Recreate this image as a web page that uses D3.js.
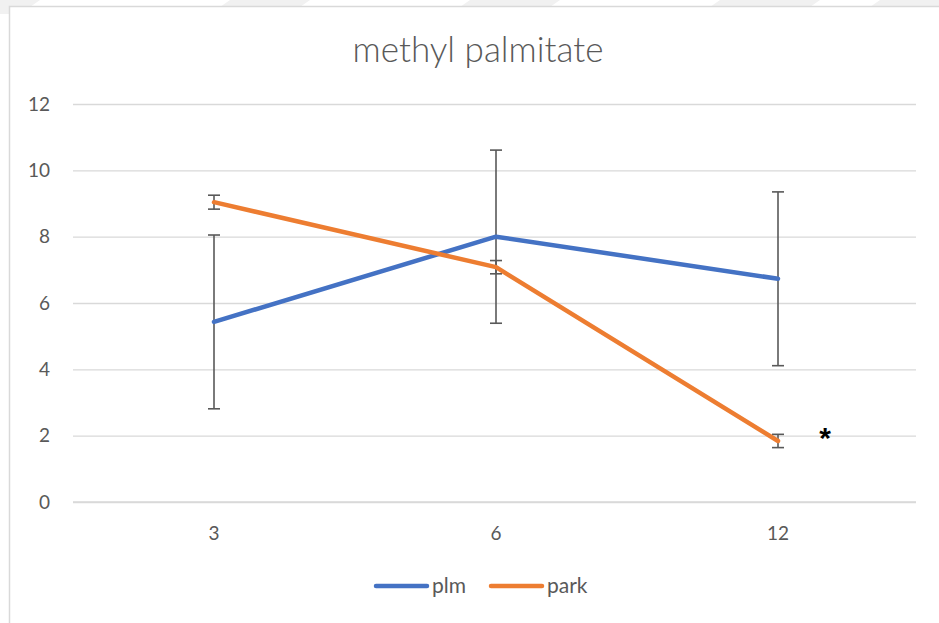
<!DOCTYPE html>
<html>
<head>
<meta charset="utf-8">
<script src="https://cdn.jsdelivr.net/npm/d3@7"></script>
<style>
  html, body { margin: 0; padding: 0; background: #fff; }
  svg { display: block; }
</style>
</head>
<body>
<svg id="chart" width="939" height="623"></svg>
<script>
// Sampling times (x categories)
const categories = ["3", "6", "12"];
// Mean values per series
const plmValues = [5.43, 8.0, 6.73];
const parkValues = [9.04, 7.08, 1.84];
// Error bar half-widths (± around the mean)
const plmErrors = [2.62, 2.61, 2.62];
const parkErrors = [0.21, 0.2, 0.2];
// Y axis ticks
const yTicks = [0, 2, 4, 6, 8, 10, 12];

const series = [
  { name: "plm", values: plmValues, errors: plmErrors, color: "#4472C4" },
  { name: "park", values: parkValues, errors: parkErrors, color: "#ED7D31" }
];

const svg = d3.select("#chart");
const W = 939, H = 623;
const font = "Lato, 'Open Sans', sans-serif";

// faint banner shapes along the top edge
const bandG = svg.append("g");
[[-40, 40], [230, 310], [470, 560], [720, 820], [880, 960]].forEach(([a, b]) => {
  bandG.append("polygon")
    .attr("points", `${a},0 ${b},0 ${b - 20},14 ${a - 20},14`)
    .attr("fill", "#f1f1f1");
});

// chart area
svg.append("rect")
  .attr("x", 9.5).attr("y", 6.5)
  .attr("width", W + 10).attr("height", H + 10)
  .attr("fill", "#fff")
  .attr("stroke", "#d9d9d9").attr("stroke-width", 1.5);

const plot = { left: 73, right: 919, top: 104, bottom: 502 };

const x = d3.scaleBand().domain(categories).range([plot.left, plot.right]);
const y = d3.scaleLinear().domain([0, 12]).range([plot.bottom, plot.top]);
const cx = c => x(c) + x.bandwidth() / 2;

// title
svg.append("text")
  .attr("x", 478).attr("y", 62)
  .attr("text-anchor", "middle")
  .attr("font-family", font).attr("font-size", 35).attr("font-weight", 300)
  .attr("fill", "#595959")
  .text("methyl palmitate");

// gridlines
const yAxis = d3.axisLeft(y).tickValues(yTicks).tickSize(-(plot.right - 3 - plot.left)).tickPadding(23);
const gy = svg.append("g").attr("transform", `translate(${plot.left},0)`).call(yAxis);
gy.select(".domain").remove();
gy.selectAll(".tick line").attr("stroke", "#d9d9d9").attr("stroke-width", 1.3);
gy.selectAll(".tick text")
  .attr("font-family", font).attr("font-size", 19).attr("fill", "#595959");

// x axis
const xAxis = d3.axisBottom(x).tickSize(0).tickPadding(25);
const gx = svg.append("g").attr("transform", `translate(0,${plot.bottom})`).call(xAxis);
gx.select(".domain").attr("stroke", "#d9d9d9").attr("stroke-width", 1.3)
  .attr("d", `M${plot.left},0H${plot.right - 3}`);
gx.selectAll(".tick text")
  .attr("font-family", font).attr("font-size", 19).attr("fill", "#595959");

// error bars
const errG = svg.append("g").attr("stroke", "#595959").attr("stroke-width", 1.6).attr("fill", "none");
series.forEach(s => {
  categories.forEach((c, i) => {
    const v = s.values[i], e = s.errors[i], px = cx(c);
    const top = y(v + e), bot = y(v - e);
    errG.append("line").attr("x1", px).attr("x2", px).attr("y1", top).attr("y2", bot);
    errG.append("line").attr("x1", px - 6).attr("x2", px + 6).attr("y1", top).attr("y2", top);
    errG.append("line").attr("x1", px - 6).attr("x2", px + 6).attr("y1", bot).attr("y2", bot);
  });
});

// series lines
const line = d3.line().x((d, i) => cx(categories[i])).y(d => y(d));
series.forEach(s => {
  svg.append("path")
    .datum(s.values)
    .attr("d", line)
    .attr("fill", "none")
    .attr("stroke", s.color)
    .attr("stroke-width", 4.5)
    .attr("stroke-linecap", "round")
    .attr("stroke-linejoin", "round");
});

// significance marker
svg.append("text")
  .attr("x", cx("12") + 47).attr("y", y(parkValues[2]) + 7)
  .attr("text-anchor", "middle")
  .attr("font-family", "'Liberation Sans', Arial, sans-serif").attr("font-size", 30).attr("font-weight", "bold")
  .attr("fill", "#000")
  .text("*");

// legend
const legend = [
  { name: "plm", color: "#4472C4", x: 376 },
  { name: "park", color: "#ED7D31", x: 491 }
];
const lg = svg.append("g");
legend.forEach(l => {
  lg.append("line")
    .attr("x1", l.x).attr("x2", l.x + 51).attr("y1", 586).attr("y2", 586)
    .attr("stroke", l.color).attr("stroke-width", 4.5).attr("stroke-linecap", "round");
  lg.append("text")
    .attr("x", l.x + 56).attr("y", 593)
    .attr("font-family", font).attr("font-size", 21).attr("fill", "#595959")
    .text(l.name);
});
</script>
</body>
</html>
